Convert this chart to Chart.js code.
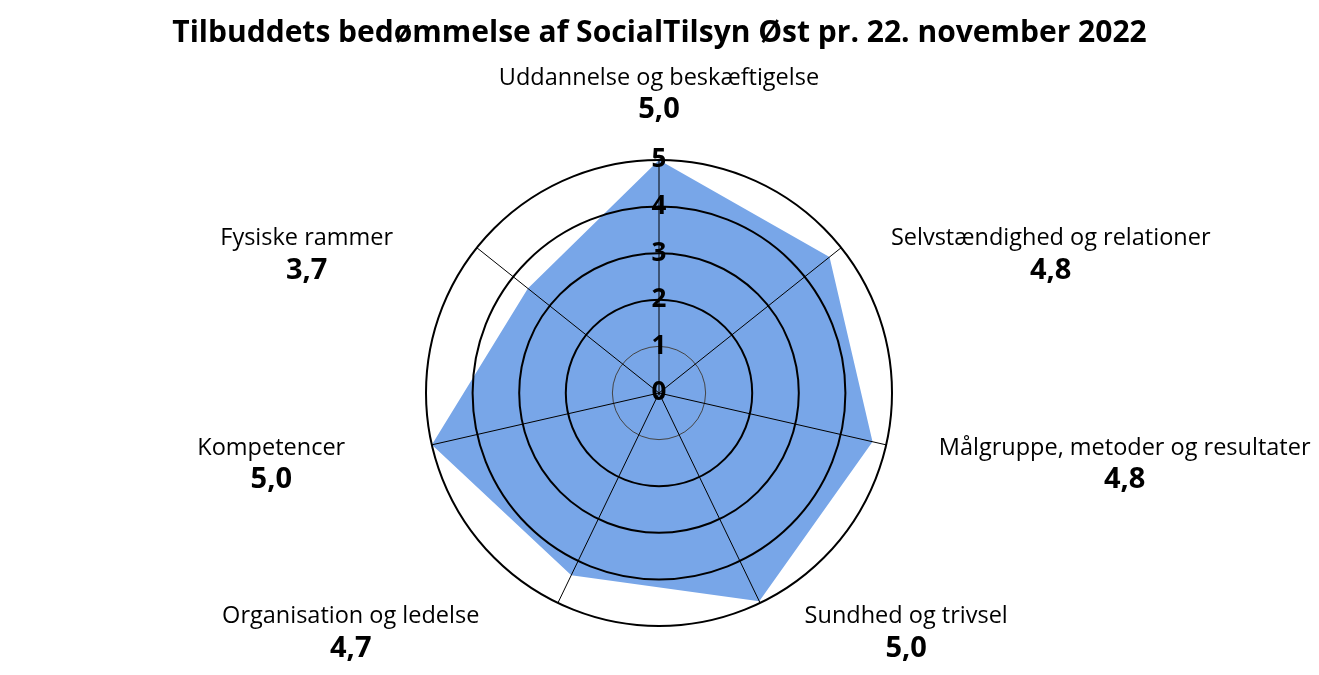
<!DOCTYPE html>
<html lang="da">
<head>
<meta charset="utf-8">
<title>Tilbuddets bedømmelse</title>
<script src="https://cdn.jsdelivr.net/npm/chart.js@4.4.1/dist/chart.umd.min.js"></script>
<style>
  html, body { margin: 0; padding: 0; background: #fff; }
  #wrap { width: 1319px; height: 675px; }
</style>
</head>
<body>
<div id="wrap"><canvas id="grafico" width="1319" height="675"></canvas></div>
<script>
const titel = 'Tilbuddets bedømmelse af SocialTilsyn Øst pr. 22. november 2022'
const kategorier = [
    'Uddannelse og beskæftigelse',
    'Selvstændighed og relationer',
    'Målgruppe, metoder og resultater',
    'Sundhed og trivsel',
    'Organisation og ledelse',
    'Kompetencer',
    'Fysiske rammer'
]
// score shown under each theme
const karakterer = [5.0, 4.8, 4.8, 5.0, 4.7, 5.0, 3.7]
// values as drawn in the web
const vaerdier = [5.0, 4.68, 4.7, 4.96, 4.34, 5.0, 3.6]
const skalaMin = 0
const skalaMax = 5

const fontNavn = '"Open Sans", "Noto Sans", sans-serif'
Chart.defaults.font.family = fontNavn
Chart.defaults.color = '#000'

// theme names + scores around the web, and the 0 at the centre
const etiketter = {
    id: 'etiketter',
    afterDraw(chart) {
        const scale = chart.scales.r
        const ctx = chart.ctx
        const R = scale.drawingArea
        ctx.save()
        ctx.fillStyle = '#000'
        ctx.textBaseline = 'middle'
        ctx.textAlign = 'center'

        ctx.font = 'bold 26px ' + fontNavn
        ctx.fillText(scale.ticks[0].label, scale.xCenter, scale.yCenter)

        kategorier.forEach((navn, i) => {
            const p = scale.getPointPosition(i, R + 15)
            const dx = p.x - scale.xCenter
            const tal = karakterer[i].toFixed(1).replace('.', ',')
            ctx.font = '23.5px ' + fontNavn
            const w = ctx.measureText(navn).width
            let cx = p.x
            let y = p.y
            if (Math.abs(dx) < 5) {
                y = p.y - 67
            } else if (dx > 0) {
                cx = p.x + 38 + w / 2
            } else {
                cx = p.x - 72 - w / 2
            }
            ctx.fillText(navn, cx, y)
            ctx.font = 'bold 29px ' + fontNavn
            ctx.fillText(tal, cx, y + 32)
        })
        ctx.restore()
    }
}

const grafico = document.querySelector('#grafico')
new Chart(grafico, {
    type: 'radar',
    data: {
        labels: kategorier,
        datasets: [{
            data: vaerdier,
            fill: true,
            backgroundColor: '#78a6e8',
            borderWidth: 0,
            pointRadius: 0
        }]
    },
    options: {
        responsive: false,
        animation: false,
        layout: { padding: { top: 0, bottom: 34, left: 0, right: 0 } },
        plugins: {
            legend: { display: false },
            tooltip: { enabled: false },
            title: {
                display: true,
                text: titel,
                color: '#000',
                font: { size: 30, weight: 'bold' },
                padding: { top: 15, bottom: 94 }
            }
        },
        scales: {
            r: {
                min: skalaMin,
                max: skalaMax,
                ticks: {
                    stepSize: 1,
                    showLabelBackdrop: false,
                    color: '#000',
                    font: { size: 26, weight: 'bold' },
                    z: 2
                },
                grid: {
                    circular: true,
                    z: 1,
                    color: (c) => c.index === 1 ? '#444' : '#000',
                    lineWidth: (c) => c.index === 1 ? 1 : 2
                },
                angleLines: { display: true, color: '#000', lineWidth: 1 },
                pointLabels: { display: false }
            }
        }
    },
    plugins: [etiketter]
})
</script>
</body>
</html>
